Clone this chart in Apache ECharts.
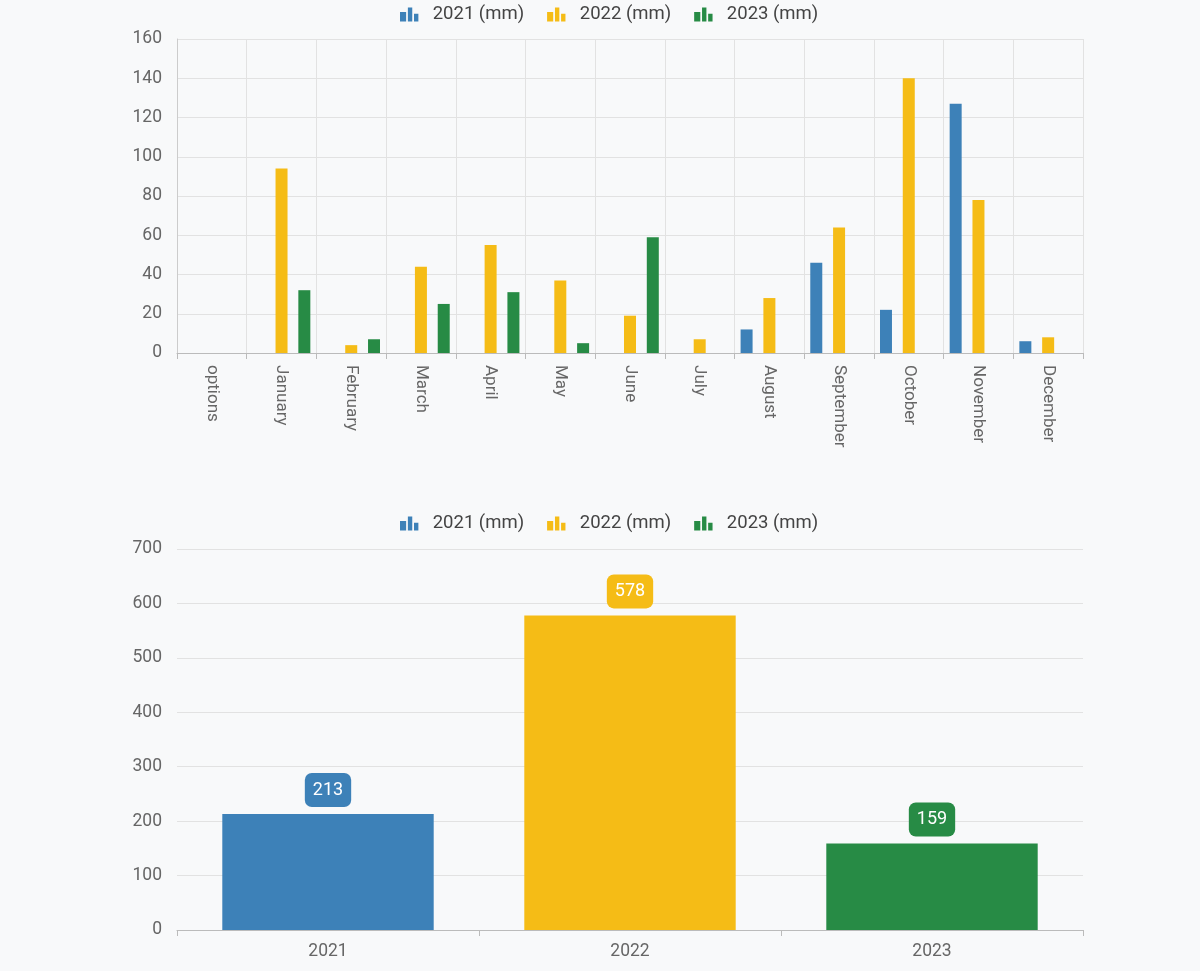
<!DOCTYPE html>
<html lang="en">
<head>
    <meta charset="UTF-8">
    <title>Rainfall</title>
    <style>
        html, body { margin: 0; padding: 0; background: #f8f9fa; }
        #main { width: 1200px; height: 971px; }
    </style>
    <script src="https://cdn.jsdelivr.net/npm/echarts@6/dist/echarts.min.js"></script>
</head>
<body>
<div id="main"></div>
<script type="text/javascript">
    // monthly values (mm)
    var months = ['options', 'January', 'February', 'March', 'April', 'May', 'June',
        'July', 'August', 'September', 'October', 'November', 'December'];
    var rain2021 = ['-', '-', '-', '-', '-', '-', '-', '-', 12, 46, 22, 127, 6];
    var rain2022 = ['-', 94, 4, 44, 55, 37, 19, 7, 28, 64, 140, 78, 8];
    var rain2023 = ['-', 32, 7, 25, 31, 5, 59, '-', '-', '-', '-', '-', '-'];

    // yearly totals
    var years = ['2021', '2022', '2023'];
    var totals = [213, 578, 159];

    var names = ['2021 (mm)', '2022 (mm)', '2023 (mm)'];
    var colors = ['#3d81b8', '#f5bc16', '#278b45'];

    var barIcon = 'path://M0,5h7v11h-7z M9,0h5v16h-5z M16,7h5v9h-5z';

    var myChart = echarts.init(document.getElementById('main'));

    var legendBase = {
        data: names,
        left: 395,
        icon: barIcon,
        itemWidth: 21,
        itemHeight: 14,
        itemGap: 23,
        textStyle: { fontSize: 18.5, color: '#444', fontFamily: 'Roboto', padding: [0, 0, 0, 8] }
    };

    var axisLabelStyle = { color: '#666', fontSize: 17.5, fontFamily: 'Roboto' };

    // bottom chart: one series per year, only its own category filled
    function yearData(i) {
        return years.map(function (y, j) { return j === i ? totals[i] : '-'; });
    }

    var monthly = [rain2021, rain2022, rain2023];
    var series = [];
    for (var i = 0; i < 3; i++) {
        series.push({
            name: names[i], type: 'bar', xAxisIndex: 0, yAxisIndex: 0,
            data: monthly[i], barWidth: 12, barGap: '90%',
            itemStyle: { color: colors[i] }
        });
    }
    for (var k = 0; k < 3; k++) {
        series.push({
            name: names[k], type: 'bar', xAxisIndex: 1, yAxisIndex: 1,
            data: yearData(k), stack: 'tot', barWidth: '70%',
            itemStyle: { color: colors[k] },
            label: {
                show: true, position: 'top', distance: 7,
                color: '#fff', fontSize: 18, fontFamily: 'Roboto',
                backgroundColor: colors[k], borderRadius: 7,
                padding: [8, 8, 8, 8]
            }
        });
    }

    var option = {
        backgroundColor: '#f8f9fa',
        animation: false,
        legend: [
            Object.assign({ top: 0 }, legendBase),
            Object.assign({ top: 509 }, legendBase)
        ],
        grid: [
            { left: 177, right: 117, top: 39, height: 314 },
            { left: 177, right: 117, top: 549, height: 381 }
        ],
        xAxis: [{
            type: 'category', gridIndex: 0, data: months,
            axisLine: { lineStyle: { color: '#bbb' } },
            axisTick: { show: true, length: 6, lineStyle: { color: '#bbb' } },
            axisLabel: Object.assign({ rotate: -90, interval: 0, margin: 12 }, axisLabelStyle, { fontSize: 17 }),
            splitLine: { show: true, lineStyle: { color: '#e2e2e2' } }
        }, {
            type: 'category', gridIndex: 1, data: years,
            axisLine: { lineStyle: { color: '#bbb' } },
            axisTick: { show: true, length: 6, lineStyle: { color: '#bbb' } },
            axisLabel: Object.assign({ margin: 13 }, axisLabelStyle, { fontSize: 17.5 })
        }],
        yAxis: [{
            type: 'value', gridIndex: 0, min: 0, max: 160, interval: 20,
            axisLine: { show: true, lineStyle: { color: '#ccc' } },
            axisLabel: Object.assign({ margin: 15 }, axisLabelStyle),
            splitLine: { lineStyle: { color: '#e2e2e2' } }
        }, {
            type: 'value', gridIndex: 1, min: 0, max: 700, interval: 100,
            axisLabel: Object.assign({ margin: 15 }, axisLabelStyle),
            splitLine: { lineStyle: { color: '#e2e2e2' } }
        }],
        series: series
    };

    myChart.setOption(option);
</script>
</body>
</html>
